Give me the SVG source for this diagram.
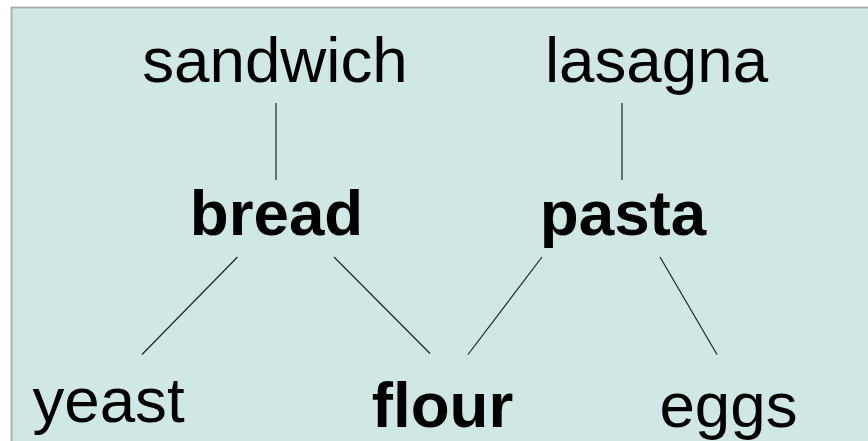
<svg xmlns="http://www.w3.org/2000/svg" width="868" height="441" viewBox="0 0 868 441">
<style>
.t{font-family:"Liberation Sans",Arial,sans-serif;font-size:63.7px;fill:#000;text-anchor:middle}
.b{font-weight:bold}
.e{stroke:#222;stroke-width:1.2;fill:none}
</style>
<rect x="0" y="0" width="868" height="441" fill="#fff"/>
<rect x="11.5" y="7.5" width="870" height="450" fill="#cfe8e5" stroke="#aaa" stroke-width="1.8"/>
<g id="connectors">
<line class="e" x1="276" y1="103" x2="276" y2="180"/>
<line class="e" x1="622" y1="103" x2="622" y2="180"/>
<line class="e" x1="237.5" y1="257" x2="142" y2="354.5"/>
<line class="e" x1="334" y1="257" x2="430" y2="353.5"/>
<line class="e" x1="542" y1="257" x2="468" y2="354.5"/>
<line class="e" x1="660" y1="257" x2="717" y2="354.5"/>
</g>
<g id="sandwich"><text class="t" x="275" y="82">sandwich</text></g>
<g id="lasagna"><text class="t" x="656.5" y="82">lasagna</text></g>
<g id="bread"><text class="t b" x="276.5" y="235">bread</text></g>
<g id="pasta"><text class="t b" x="623" y="235">pasta</text></g>
<g id="yeast"><text class="t" x="108.5" y="422">yeast</text></g>
<g id="flour"><text class="t b" x="442.5" y="427">flour</text></g>
<g id="eggs"><text class="t" x="728.5" y="427">eggs</text></g>
</svg>
